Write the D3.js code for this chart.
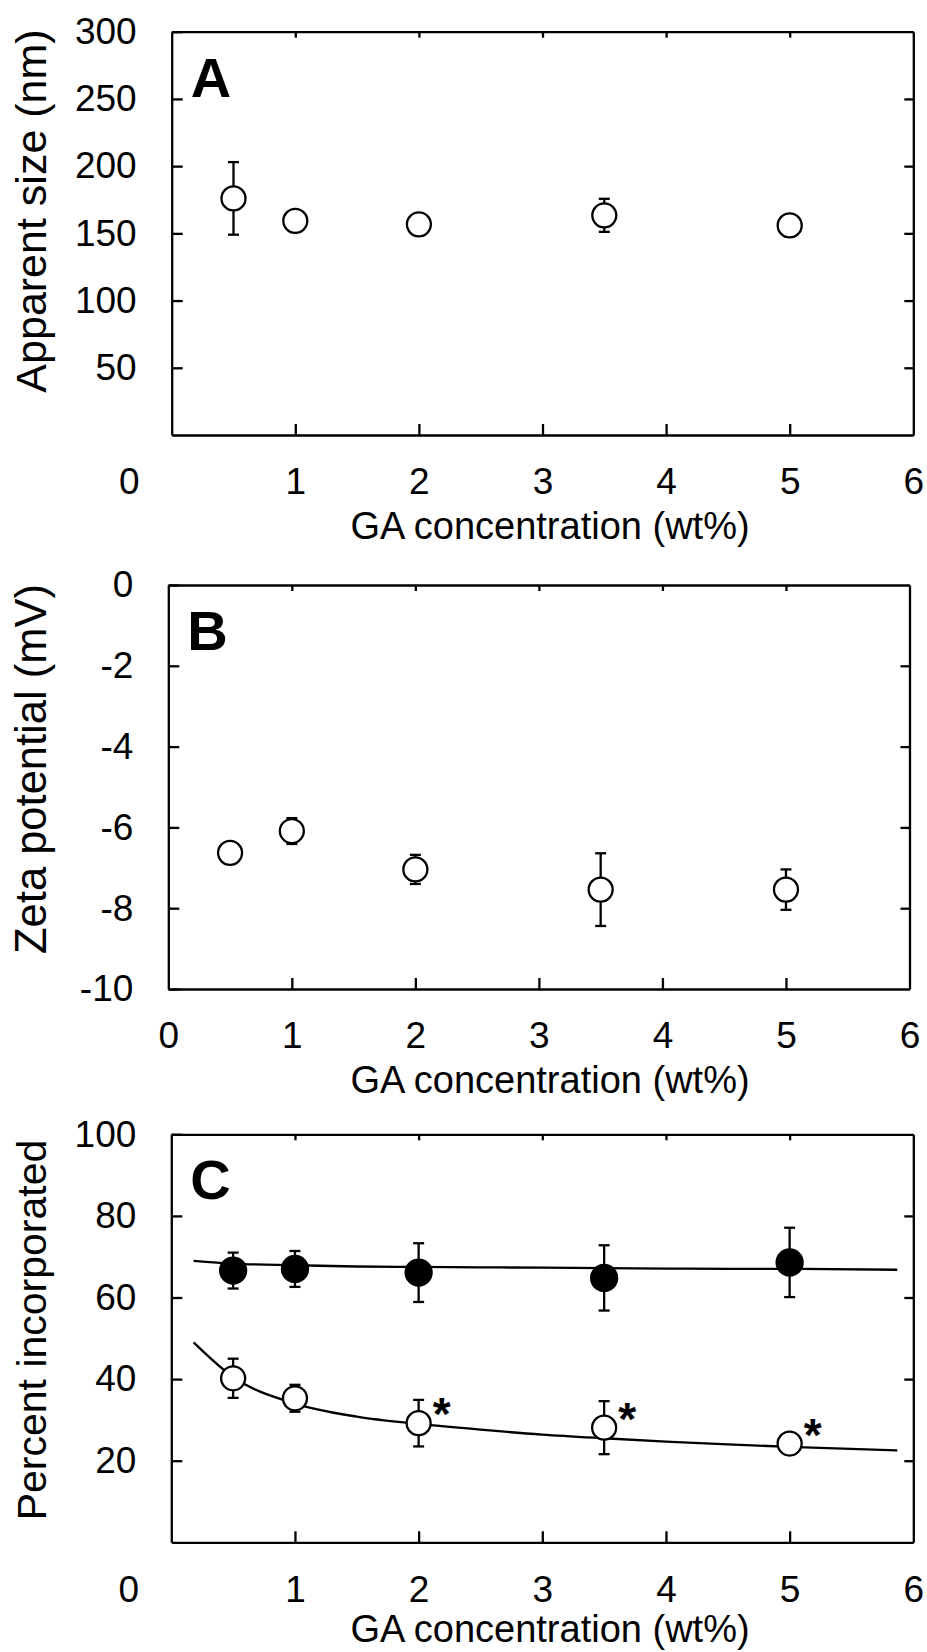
<!DOCTYPE html>
<html lang="en">
<head>
    <meta charset="UTF-8">
    <script src="https://cdn.jsdelivr.net/npm/d3@7/dist/d3.min.js"></script>
    <title>GA concentration panels</title>
    <style>
        body { margin: 0; background: #fff; }
        svg { display: block; font-family: Arial, "Liberation Sans", sans-serif; }
    </style>
</head>
<body>
    <svg id="mainsvg" width="927" height="1652"></svg>
    <script>
        // x values (GA concentration, wt%) shared by all panels
        const gaConc = [0.5, 1, 2, 3.5, 5]
        const xTicks = [0, 1, 2, 3, 4, 5, 6]

        // panel A: apparent size (nm)
        const sizeMean = [176, 159.3, 156.7, 163.4, 155.9]
        const sizeErr = [27, 3, 3, 12.3, 3]
        const sizeTicks = [50, 100, 150, 200, 250, 300]

        // panel B: zeta potential (mV)
        const zetaMean = [-6.63, -6.09, -7.04, -7.54, -7.54]
        const zetaErr = [0.2, 0.32, 0.36, 0.9, 0.5]
        const zetaTicks = [0, -2, -4, -6, -8, -10]

        // panel C: percent incorporated
        const filledMean = [66.6, 67.0, 66.1, 64.8, 68.6]
        const filledErr = [4.4, 4.4, 7.2, 8.0, 8.5]
        const openMean = [40.2, 35.3, 29.2, 28.1, 24.2]
        const openErr = [4.8, 3.3, 5.7, 6.5, 2]
        const openStar = [false, false, true, true, true]
        const pctTicks = [20, 40, 60, 80, 100]

        // fitted curves in panel C
        const fitX = [0.18, 0.5, 1, 1.5, 2, 2.5, 3, 3.5, 4, 4.5, 5, 5.87]
        const fitFilled = [69.0, 68.3, 67.9, 67.6, 67.5, 67.4, 67.3, 67.2, 67.1, 67.0, 67.0, 66.8]
        const fitOpen = [49.0, 40.5, 34.0, 30.8, 29.0, 27.6, 26.4, 25.5, 24.7, 24.0, 23.4, 22.5]

        const svg = d3.select('#mainsvg')
        const lw = 2.3
        const tickFont = 37

        function drawPanel(p) {
            const x = d3.scaleLinear().domain([0, 6]).range([p.left, p.right])
            const y = d3.scaleLinear().domain(p.yDomain).range([p.bottom, p.top])
            const g = svg.append('g')

            // left axis with labels
            const left = g.append('g').attr('transform', `translate(${p.left},0)`)
                .call(d3.axisLeft(y).tickValues(p.yTicks).tickSizeInner(-11).tickSizeOuter(0)
                    .tickPadding(35).tickFormat(d => String(d)))
            // right axis
            const right = g.append('g').attr('transform', `translate(${p.right},0)`)
                .call(d3.axisRight(y).tickValues(p.rightTicks).tickSizeInner(-9).tickSizeOuter(0).tickFormat(''))
            // bottom axis with labels
            const bottom = g.append('g').attr('transform', `translate(0,${p.bottom})`)
                .call(d3.axisBottom(x).tickValues(xTicks).tickSizeInner(-11).tickSizeOuter(0)
                    .tickPadding(33).tickFormat(d => String(d)))
            // top axis
            const top = g.append('g').attr('transform', `translate(0,${p.top})`)
                .call(d3.axisTop(x).tickValues([1, 2, 3, 4, 5]).tickSizeInner(-6).tickSizeOuter(0).tickFormat(''))

            ;[left, right, bottom, top].forEach(a => {
                a.attr('font-size', tickFont).attr('font-family', null)
                a.selectAll('path, line').attr('stroke', '#000').attr('stroke-width', lw)
                a.selectAll('text').attr('fill', '#000')
            })
            bottom.selectAll('.tick').filter(d => d === 0 || d === 6).select('line').remove()
            bottom.selectAll('.tick').filter(d => d === 0).select('text').attr('x', p.zeroShift)

            // panel letter
            g.append('text').text(p.letter)
                .attr('x', p.left + 19).attr('y', p.top + 65)
                .attr('font-size', 56).attr('font-weight', 'bold')

            // axis titles
            g.append('text').text('GA concentration (wt%)')
                .attr('x', 550).attr('y', p.bottom + p.titleDy)
                .attr('text-anchor', 'middle').attr('font-size', 38)
            g.append('text').text(p.yTitle)
                .attr('transform', `translate(46,${p.yTitleY}) rotate(-90)`)
                .attr('text-anchor', 'middle').attr('font-size', p.yTitleSize)

            // fitted curves
            const line = d3.line().x(d => x(d[0])).y(d => y(d[1])).curve(d3.curveMonotoneX)
            ;(p.fits || []).forEach(f => {
                g.append('path').attr('d', line(fitX.map((v, i) => [v, f[i]])))
                    .attr('fill', 'none').attr('stroke', '#000').attr('stroke-width', lw)
            })

            // series: error bars then markers
            p.series.forEach(s => {
                gaConc.forEach((c, i) => {
                    const cx = x(c)
                    const y1 = y(s.mean[i] + s.err[i])
                    const y2 = y(s.mean[i] - s.err[i])
                    g.append('line').attr('x1', cx).attr('x2', cx).attr('y1', y1).attr('y2', y2)
                        .attr('stroke', '#000').attr('stroke-width', lw)
                    ;[y1, y2].forEach(yy => {
                        g.append('line').attr('x1', cx - 5.5).attr('x2', cx + 5.5).attr('y1', yy).attr('y2', yy)
                            .attr('stroke', '#000').attr('stroke-width', lw)
                    })
                })
                gaConc.forEach((c, i) => {
                    g.append('circle').attr('cx', x(c)).attr('cy', y(s.mean[i]))
                        .attr('r', s.filled ? 13 : 12)
                        .attr('fill', s.filled ? '#000' : '#fff')
                        .attr('stroke', '#000').attr('stroke-width', lw)
                    if (s.star && s.star[i]) {
                        g.append('text').text('*')
                            .attr('x', x(c) + 23).attr('y', y(s.mean[i]) + 7)
                            .attr('text-anchor', 'middle').attr('font-size', 46).attr('font-weight', 'bold')
                    }
                })
            })
        }

        drawPanel({
            letter: 'A', left: 171.7, right: 913.3, top: 31.7, bottom: 435,
            yDomain: [0, 300], yTicks: sizeTicks, rightTicks: [50, 100, 150, 200, 250],
            zeroShift: -43, titleDy: 104, yTitle: 'Apparent size (nm)', yTitleY: 211, yTitleSize: 43,
            series: [{ mean: sizeMean, err: sizeErr, filled: false }]
        })
        drawPanel({
            letter: 'B', left: 168.3, right: 909.5, top: 585, bottom: 989,
            yDomain: [-10, 0], yTicks: zetaTicks, rightTicks: [-2, -4, -6, -8],
            zeroShift: 0, titleDy: 104, yTitle: 'Zeta potential (mV)', yTitleY: 769, yTitleSize: 43.5,
            series: [{ mean: zetaMean, err: zetaErr, filled: false }]
        })
        drawPanel({
            letter: 'C', left: 171.3, right: 913.3, top: 1134.3, bottom: 1542.3,
            yDomain: [0, 100], yTicks: pctTicks, rightTicks: [20, 40, 60, 80],
            zeroShift: -43, titleDy: 100, yTitle: 'Percent incorporated', yTitleY: 1330, yTitleSize: 41,
            fits: [fitFilled, fitOpen],
            series: [
                { mean: filledMean, err: filledErr, filled: true },
                { mean: openMean, err: openErr, filled: false, star: openStar }
            ]
        })
    </script>
</body>
</html>
